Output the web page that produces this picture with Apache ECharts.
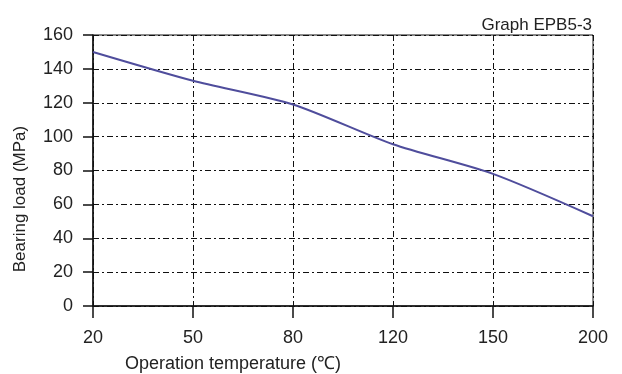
<!DOCTYPE html>
<html>
<head>
<meta charset="utf-8">
<script src="https://cdn.jsdelivr.net/npm/echarts@6/dist/echarts.min.js"></script>
<style>html,body{margin:0;padding:0;background:#fff;}#c{width:622px;height:374px;}</style>
</head>
<body>
<div id="c"></div>
<script>
const temperatures = ['20', '50', '80', '120', '150', '200'];
const bearingLoad = [150, 133, 119, 95.5, 78, 53];
const yMin = 0, yMax = 160, yStep = 20;
const chartTitle = 'Graph EPB5-3';
const xName = 'Operation temperature (\u2103)';
const yName = 'Bearing load (MPa)';

const font = 'Liberation Sans, Arial, sans-serif';
const dashDot = [6, 3, 2, 3];
const chart = echarts.init(document.getElementById('c'), null, {renderer: 'canvas'});
chart.setOption({
  animation: false,
  backgroundColor: '#fff',
  title: {
    text: chartTitle, right: 25, top: 12,
    textStyle: {fontFamily: font, fontSize: 17, fontWeight: 'normal', color: '#222'}
  },
  grid: {left: 93, right: 29, top: 35, bottom: 68, show: true, borderColor: '#111', borderWidth: 1},
  xAxis: {
    type: 'category', data: temperatures, boundaryGap: false,
    axisLine: {lineStyle: {color: '#111', width: 1.5}},
    axisTick: {show: true, inside: false, length: 12, lineStyle: {color: '#111', width: 1.5}},
    axisLabel: {fontFamily: font, fontSize: 18, color: '#222', margin: 23},
    splitLine: {show: true, lineStyle: {color: '#111', width: 1, type: dashDot}}
  },
  yAxis: {
    type: 'value', min: yMin, max: yMax, interval: yStep,
    axisLine: {show: true, lineStyle: {color: '#111', width: 1.5}},
    axisTick: {show: true, length: 10, lineStyle: {color: '#111', width: 1.5}},
    axisLabel: {fontFamily: font, fontSize: 18, color: '#222', margin: 20},
    splitLine: {show: true, lineStyle: {color: '#111', width: 1, type: dashDot}}
  },
  graphic: [
    {type: 'text', left: 125, top: 355, style: {text: xName, font: '18px ' + font, fill: '#222'}},
    {type: 'text', x: 20, y: 199, rotation: Math.PI / 2,
     style: {text: yName, font: '17px ' + font, fill: '#222', align: 'center', verticalAlign: 'middle'}}
  ],
  series: [{
    type: 'line', data: bearingLoad, smooth: 0.25, showSymbol: false, symbol: 'none',
    lineStyle: {color: '#4f4d9c', width: 2}
  }]
});
</script>
</body>
</html>
